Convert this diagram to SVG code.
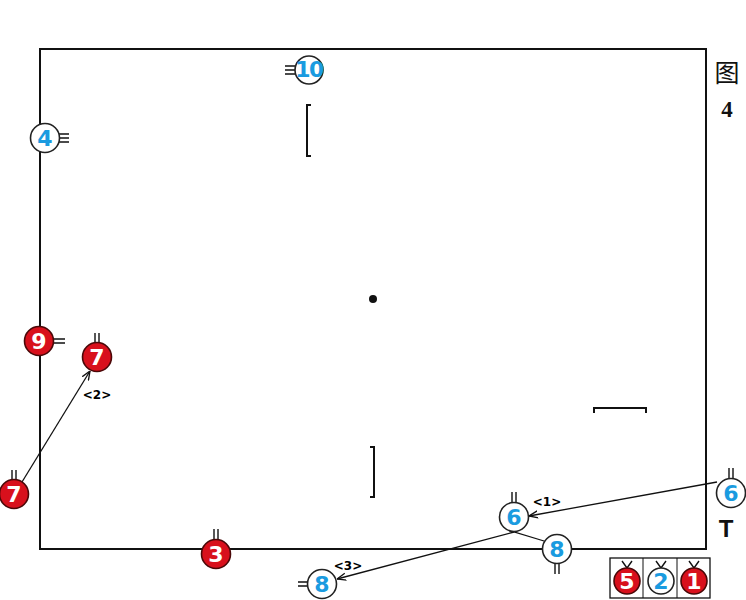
<svg xmlns="http://www.w3.org/2000/svg" width="746" height="600" viewBox="0 0 746 600">
<defs>
<style>
.red{fill:#d8101c;stroke:#4a0808;stroke-width:1.6}
.blue{fill:#fff;stroke:#222;stroke-width:1.6}
.nr{fill:#fff;font-family:"DejaVu Sans",sans-serif;font-weight:bold;font-size:22px;text-anchor:middle}
.nb{fill:#1a9be0;font-family:"DejaVu Sans",sans-serif;font-weight:bold;font-size:22px;text-anchor:middle}
.tk{stroke:#111;stroke-width:1.4;fill:none}
.lbl{font-family:"DejaVu Sans",sans-serif;font-weight:bold;font-size:12px;text-anchor:middle;fill:#000}
.ln{stroke:#111;stroke-width:1.3;fill:none}
.br{stroke:#111;stroke-width:2;fill:none}
</style>
<marker id="ah" viewBox="0 0 10 10" refX="10" refY="5" markerWidth="9" markerHeight="9" orient="auto" markerUnits="userSpaceOnUse">
<path d="M0,1 L10,5 L0,9" fill="none" stroke="#111" stroke-width="1.5"/>
</marker>
</defs>
<rect width="746" height="600" fill="#fff"/>
<rect x="40" y="49" width="666" height="500" fill="none" stroke="#111" stroke-width="2"/>
<g id="brackets">
<path class="br" d="M311,105 H307 V156 H311"/>
<path class="br" d="M370,447 H374 V497 H370"/>
<path class="br" d="M594,413 V408 H646 V413"/>
</g>
<circle id="center" cx="373" cy="299" r="4" fill="#111"/>
<g id="title">
<text x="727" y="82" font-family="'Noto Sans CJK SC',sans-serif" font-size="25" text-anchor="middle" fill="#111">图</text>
<text x="727" y="117" font-family="'Liberation Serif',serif" font-weight="bold" font-size="23" text-anchor="middle" fill="#111">4</text>
</g>
<text x="726" y="537" font-family="'Liberation Sans',Arial,sans-serif" font-weight="bold" font-size="24" text-anchor="middle" fill="#111">T</text>
<g id="connectors">
<line class="ln" x1="22" y1="482" x2="90" y2="371" marker-end="url(#ah)"/>
<polyline class="ln" points="717,482 529,516" marker-end="url(#ah)"/>
<polyline class="ln" points="544,541 514,532 337,579" marker-end="url(#ah)"/>
</g>
<g id="labels">
<text class="lbl" x="97" y="399">&lt;2&gt;</text>
<text class="lbl" x="547" y="506">&lt;1&gt;</text>
<text class="lbl" x="348" y="570">&lt;3&gt;</text>
</g>
<g id="n10">
<path class="tk" d="M285,66 H295 M285,70 H295 M285,74 H295"/>
<circle class="blue" cx="309" cy="70" r="14"/>
<text class="nb" x="309" y="77" font-size="18" letter-spacing="-1.5">10</text>
</g>
<g id="n4">
<path class="tk" d="M59,134 H69 M59,138 H69 M59,142 H69"/>
<circle class="blue" cx="45" cy="138" r="14.5"/>
<text class="nb" x="45" y="146">4</text>
</g>
<g id="n9">
<path class="tk" d="M53,339 H65 M53,343 H65"/>
<circle class="red" cx="39" cy="341" r="14.5"/>
<text class="nr" x="39" y="349">9</text>
</g>
<g id="n7a">
<path class="tk" d="M95,333 V343 M99,333 V343"/>
<circle class="red" cx="97" cy="357" r="14.5"/>
<text class="nr" x="97" y="365">7</text>
</g>
<g id="n7b">
<path class="tk" d="M12,470 V480 M16,470 V480"/>
<circle class="red" cx="14" cy="494" r="14.5"/>
<text class="nr" x="14" y="502">7</text>
</g>
<g id="n3">
<path class="tk" d="M214,529 V540 M218,529 V540"/>
<circle class="red" cx="216" cy="554" r="14.5"/>
<text class="nr" x="216" y="562">3</text>
</g>
<g id="n6a">
<path class="tk" d="M729,468 V479 M733,468 V479"/>
<circle class="blue" cx="731" cy="493" r="14.5"/>
<text class="nb" x="731" y="501">6</text>
</g>
<g id="n6b">
<path class="tk" d="M512,492 V503 M516,492 V503"/>
<circle class="blue" cx="514" cy="517" r="14.5"/>
<text class="nb" x="514" y="525">6</text>
</g>
<g id="n8a">
<path class="tk" d="M555,563 V574 M559,563 V574"/>
<circle class="blue" cx="557" cy="549" r="14.5"/>
<text class="nb" x="557" y="557">8</text>
</g>
<g id="n8b">
<path class="tk" d="M298,582 H308 M298,586 H308"/>
<circle class="blue" cx="322" cy="584" r="14.5"/>
<text class="nb" x="322" y="592">8</text>
</g>
<g id="legend">
<rect x="610" y="558" width="100" height="40" fill="#fff" stroke="#111" stroke-width="1.3"/>
<line x1="643" y1="558" x2="643" y2="598" stroke="#111" stroke-width="1"/>
<line x1="677" y1="558" x2="677" y2="598" stroke="#111" stroke-width="1"/>
<path class="tk" d="M622,561 L627,568 L632,561 M656,561 L661,568 L666,561 M689,561 L694,568 L699,561"/>
<circle class="red" cx="627" cy="581" r="13"/>
<text class="nr" x="627" y="589">5</text>
<circle class="blue" cx="661" cy="581" r="13"/>
<text class="nb" x="661" y="589">2</text>
<circle class="red" cx="694" cy="581" r="13"/>
<text class="nr" x="694" y="589">1</text>
</g>
</svg>
